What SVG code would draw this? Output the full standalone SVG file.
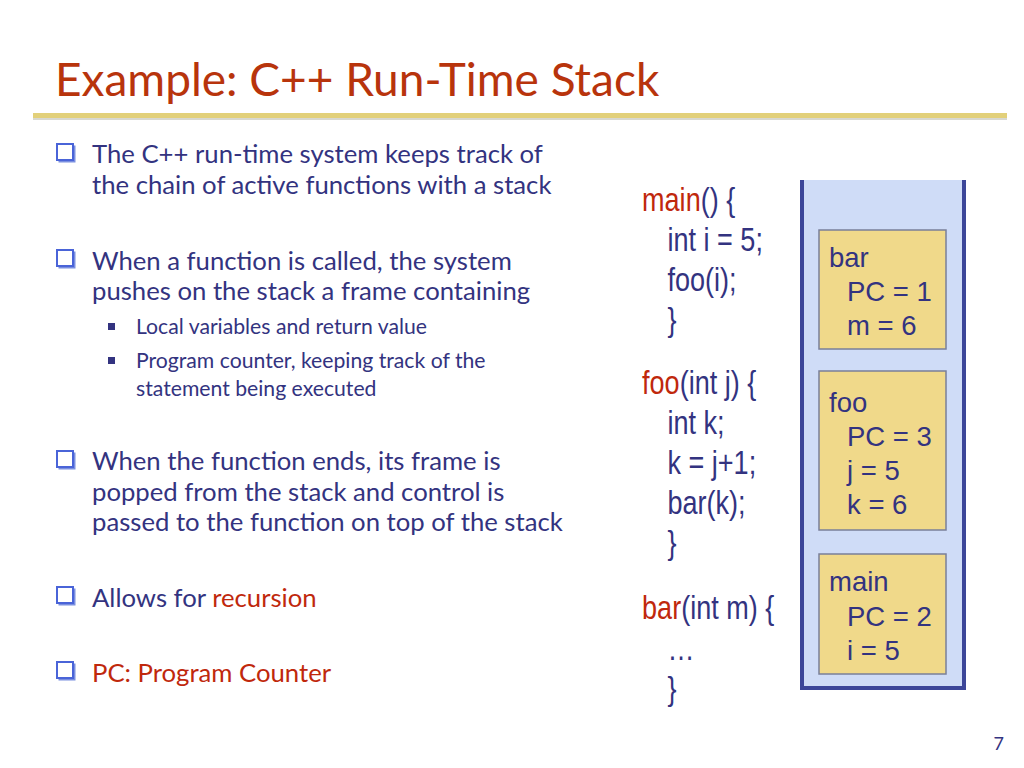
<svg xmlns="http://www.w3.org/2000/svg" width="1024" height="768" viewBox="0 0 1024 768">
<style>
.t{font-family:Lato,"Open Sans",sans-serif;fill:#333380}
.b{font-size:25.7px}
.s{font-size:21.2px}
.r{fill:#c0280c}
.c{font-family:"Liberation Sans",Arial,sans-serif;font-size:33px;fill:#333380}
.fr{fill:#f0d98a;stroke:#7a7f99;stroke-width:1.5}
.f{font-family:"Liberation Sans",Arial,sans-serif;font-size:27.5px;fill:#333380}
</style>
<defs>
<g id="cb"><rect x="1.5" y="1.5" width="17" height="17" fill="#7a8fe0"/><rect x="0" y="0" width="16" height="16" fill="#fff" stroke="#4a64d8" stroke-width="2"/></g>
</defs>
<rect width="1024" height="768" fill="#fff"/>
<text x="55" y="96" font-family="Lato,'Open Sans',sans-serif" font-size="46" fill="#b8340c">Example: C++ Run-Time Stack</text>
<rect x="33" y="113" width="974" height="5" fill="#e2d07a"/>
<rect x="33" y="118" width="974" height="2" fill="#d8d8d0"/>
<g id="bullets">
<use href="#cb" x="57" y="144"/>
<text class="t b" x="92" y="163">The C++ run-time system keeps track of</text>
<text class="t b" x="92" y="194">the chain of active functions with a stack</text>
<use href="#cb" x="57" y="250"/>
<text class="t b" x="92" y="270">When a function is called, the system</text>
<text class="t b" x="92" y="300">pushes on the stack a frame containing</text>
<rect x="108" y="323" width="7" height="7" fill="#333380"/>
<text class="t s" x="136" y="334">Local variables and return value</text>
<rect x="108" y="357" width="7" height="7" fill="#333380"/>
<text class="t s" x="136" y="368">Program counter, keeping track of the</text>
<text class="t s" x="136" y="396">statement being executed</text>
<use href="#cb" x="57" y="451"/>
<text class="t b" x="92" y="470">When the function ends, its frame is</text>
<text class="t b" x="92" y="501">popped from the stack and control is</text>
<text class="t b" x="92" y="531">passed to the function on top of the stack</text>
<use href="#cb" x="57" y="587"/>
<text class="t b" x="92" y="607">Allows for <tspan class="r">recursion</tspan></text>
<use href="#cb" x="57" y="662"/>
<text class="t b r" x="92" y="682">PC: Program Counter</text>
</g>
<g id="code" transform="scale(0.82,1)">
<text class="c" x="783" y="211"><tspan class="r">main</tspan>() {</text>
<text class="c" x="814" y="251">int i = 5;</text>
<text class="c" x="814" y="291">foo(i);</text>
<text class="c" x="814" y="331">}</text>
<text class="c" x="783" y="394"><tspan class="r">foo</tspan>(int j) {</text>
<text class="c" x="814" y="434">int k;</text>
<text class="c" x="814" y="474">k = j+1;</text>
<text class="c" x="814" y="514">bar(k);</text>
<text class="c" x="814" y="554">}</text>
<text class="c" x="783" y="619"><tspan class="r">bar</tspan>(int m) {</text>
<text class="c" x="814" y="660">…</text>
<text class="c" x="814" y="700">}</text>
</g>
<g id="stack">
<rect x="802" y="180" width="162" height="508" fill="#cfdcf7"/>
<path d="M802,180 V688 H964 V180" fill="none" stroke="#3c4699" stroke-width="4"/>
</g>
<g id="bar">
<rect class="fr" x="819" y="230" width="127" height="119"/>
<text class="f r" x="829" y="267">bar</text>
<text class="f" x="847" y="301">PC = 1</text>
<text class="f" x="847" y="335">m = 6</text>
</g>
<g id="foo">
<rect class="fr" x="819" y="371" width="127" height="159"/>
<text class="f r" x="829" y="412">foo</text>
<text class="f" x="847" y="446">PC = 3</text>
<text class="f" x="847" y="480">j = 5</text>
<text class="f" x="847" y="514">k = 6</text>
</g>
<g id="main">
<rect class="fr" x="819" y="554" width="127" height="120"/>
<text class="f r" x="829" y="591">main</text>
<text class="f" x="847" y="626">PC = 2</text>
<text class="f" x="847" y="660">i = 5</text>
</g>
<text x="1004" y="750" font-family="Lato,sans-serif" font-size="18" fill="#333380" text-anchor="end">7</text>
</svg>
